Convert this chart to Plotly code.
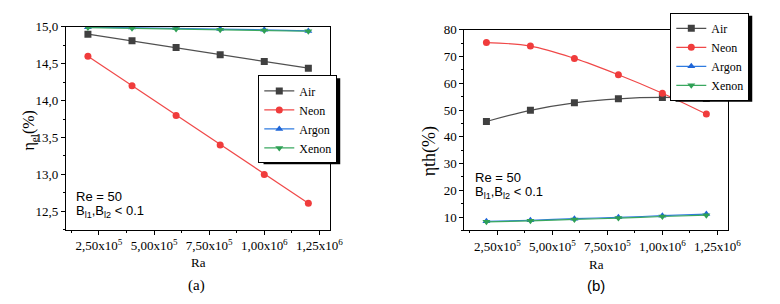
import plotly.graph_objects as go

ra = [2.0e5, 4.0e5, 6.0e5, 8.0e5, 1.0e6, 1.2e6]
series_names = ["Air", "Neon", "Argon", "Xenon"]

eta_el_air = [14.90, 14.81, 14.72, 14.62, 14.53, 14.44]
eta_el_neon = [14.60, 14.20, 13.80, 13.40, 13.00, 12.61]
eta_el_argon = [14.995, 14.99, 14.98, 14.97, 14.96, 14.945]
eta_el_xenon = [14.99, 14.98, 14.97, 14.96, 14.95, 14.94]

eta_th_air = [45.7, 49.9, 52.7, 54.2, 54.7, 54.3]
eta_th_neon = [75.2, 73.9, 69.3, 63.2, 56.3, 48.5]
eta_th_argon = [8.4, 8.8, 9.4, 9.9, 10.5, 11.1]
eta_th_xenon = [8.2, 8.6, 9.1, 9.6, 10.2, 10.7]

x_tickvals = [2.5e5, 5.0e5, 7.5e5, 1.0e6, 1.25e6]
x_ticktext = ["2,50x10<sup>5</sup>", "5,00x10<sup>5</sup>", "7,50x10<sup>5</sup>",
              "1,00x10<sup>6</sup>", "1,25x10<sup>6</sup>"]

styles = {
    "Air": dict(line="#505050", marker="#404040", symbol="square"),
    "Neon": dict(line="#f04848", marker="#f03c3c", symbol="circle"),
    "Argon": dict(line="#2f7be0", marker="#1f66d8", symbol="triangle-up"),
    "Xenon": dict(line="#3aa860", marker="#2fa055", symbol="triangle-down"),
}

W, H = 780, 304
def px(x):
    return x / W
def py(y):
    return (H - y) / H

serif = "Times New Roman, Liberation Serif, serif"
sans = "Arial, Liberation Sans, sans-serif"

LEG_FONT = 12
LEG_H = 4 * 19 + 12      # plotly legend height for 4 one-line entries
LEG_W_SAFE = 78          # under-estimate of legend width (shadow left edge stays hidden)
L_RIGHT, L_TOP = 343, 70
R_RIGHT, R_TOP = 762, 6
SH = 3

fig = go.Figure()
left_vals = [eta_el_air, eta_el_neon, eta_el_argon, eta_el_xenon]
right_vals = [eta_th_air, eta_th_neon, eta_th_argon, eta_th_xenon]
for name, vals in zip(series_names, left_vals):
    s = styles[name]
    fig.add_trace(go.Scatter(x=ra, y=vals, name=name, mode="lines+markers",
                             line=dict(color=s["line"], width=1.2),
                             marker=dict(color=s["marker"], symbol=s["symbol"], size=7),
                             xaxis="x", yaxis="y", legend="legend"))
for name, vals in zip(series_names, right_vals):
    s = styles[name]
    fig.add_trace(go.Scatter(x=ra, y=vals, name=name, mode="lines+markers",
                             line=dict(color=s["line"], width=1.2, shape="spline"),
                             marker=dict(color=s["marker"], symbol=s["symbol"], size=7),
                             xaxis="x2", yaxis="y2", legend="legend2"))

axis_common = dict(showline=True, linecolor="black", linewidth=1, mirror=True,
                   ticks="outside", ticklen=4, tickcolor="black", showgrid=False,
                   zeroline=False, tickfont=dict(family=serif, size=13, color="black"))

xaxis_common = dict(axis_common, range=[1.0e5, 1.3e6], tickmode="array",
                    tickvals=x_tickvals, ticktext=x_ticktext,
                    minor=dict(ticks="outside", ticklen=2, dtick=1.25e5, tick0=0,
                               tickcolor="black", showgrid=False))

def legend_style(xr, yt):
    return dict(x=px(xr), y=py(yt), xanchor="right", yanchor="top",
                bgcolor="white", bordercolor="black", borderwidth=1,
                font=dict(family=serif, size=LEG_FONT, color="black"),
                tracegroupgap=0, itemwidth=30)

fig.update_layout(
    width=W, height=H, margin=dict(l=0, r=0, t=0, b=0),
    paper_bgcolor="white", plot_bgcolor="white",
    separators=",.",
    font=dict(family=serif, color="black"),
    xaxis=dict(xaxis_common, domain=[px(67), px(336)], anchor="y"),
    yaxis=dict(axis_common, domain=[py(228), py(20.3)], anchor="x",
               range=[12.25, 15.0], dtick=0.5, tick0=12.5, tickformat=".1f",
               minor=dict(ticks="outside", ticklen=2, dtick=0.25, tick0=12.5,
                          tickcolor="black", showgrid=False)),
    xaxis2=dict(xaxis_common, domain=[px(472.3), px(740.7)], anchor="y2"),
    yaxis2=dict(axis_common, domain=[py(228.7), py(23.3)], anchor="x2",
                range=[5, 80], dtick=10, tick0=10,
                minor=dict(ticks="outside", ticklen=2, dtick=5, tick0=5,
                           tickcolor="black", showgrid=False)),
    legend=legend_style(L_RIGHT, L_TOP),
    legend2=legend_style(R_RIGHT, R_TOP),
    showlegend=True,
)

# legend drop shadows (behind the legend boxes)
for xr, yt in ((L_RIGHT, L_TOP), (R_RIGHT, R_TOP)):
    fig.add_shape(type="rect", xref="paper", yref="paper",
                  x0=px(xr - LEG_W_SAFE + SH), x1=px(xr + SH),
                  y0=py(yt + LEG_H + SH), y1=py(yt + SH),
                  fillcolor="black", line=dict(width=0), layer="above")

ann = [
    dict(x=px(30), y=py(127), text="η<sub>el</sub>(%)", textangle=-90,
         font=dict(family=serif, size=16)),
    dict(x=px(437), y=py(148), text="ηth(%)", textangle=-90,
         font=dict(family=serif, size=18)),
    dict(x=px(201.5), y=py(262), text="Ra", font=dict(family=serif, size=13)),
    dict(x=px(606.5), y=py(263.5), text="Ra", font=dict(family=serif, size=13)),
    dict(x=px(200), y=py(285), text="(a)", font=dict(family=serif, size=15)),
    dict(x=px(606.5), y=py(285), text="(b)", font=dict(family=sans, size=15)),
    dict(x=px(75), y=py(193.5), text="Re = 50", xanchor="left",
         font=dict(family=sans, size=13)),
    dict(x=px(75), y=py(209.5), text="B<sub>l1</sub>,B<sub>l2</sub> < 0.1", xanchor="left",
         font=dict(family=sans, size=13)),
    dict(x=px(481.5), y=py(174.5), text="Re = 50", xanchor="left",
         font=dict(family=sans, size=13)),
    dict(x=px(481.5), y=py(190), text="B<sub>l1</sub>,B<sub>l2</sub> < 0.1", xanchor="left",
         font=dict(family=sans, size=13)),
]
for a in ann:
    a.setdefault("xanchor", "center")
    fig.add_annotation(xref="paper", yref="paper", showarrow=False, yanchor="middle", **a)
fig.update_annotations(font_color="black")

fig.write_html("out.html", config={"displayModeBar": False},
               post_script="document.body.style.margin='0';document.body.style.overflow='hidden';")
